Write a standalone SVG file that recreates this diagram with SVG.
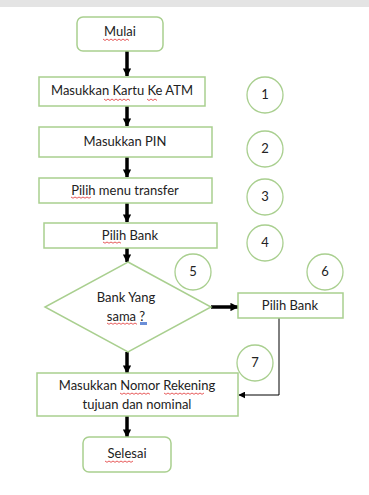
<svg xmlns="http://www.w3.org/2000/svg" width="369" height="495" viewBox="0 0 369 495">
<defs>
<marker id="ah" viewBox="0 0 10 10" refX="9" refY="5" markerWidth="2.4" markerHeight="2.4" orient="auto" markerUnits="strokeWidth"><path d="M0,0 L10,5 L0,10 z" fill="#000"/></marker>
<marker id="ahs" viewBox="0 0 10 10" refX="9" refY="5" markerWidth="7" markerHeight="7" orient="auto" markerUnits="userSpaceOnUse"><path d="M0,0 L10,5 L0,10 z" fill="#000"/></marker>
</defs>
<style>
.n{fill:#fff;stroke:#a9cf8f;stroke-width:1.5}
.t{font-family:Lato,"Liberation Sans",sans-serif;font-size:13px;fill:#222;text-anchor:middle}
.c{fill:#fff;stroke:#a9cf8f;stroke-width:1.3}
.a{stroke:#000;stroke-width:3.5;fill:none;marker-end:url(#ah)}
.w{stroke:#e03030;stroke-width:0.8;fill:none}
</style>
<rect x="0" y="0" width="369" height="7" fill="#e4e4e4"/>
<g id="connectors">
<line class="a" x1="127" y1="51" x2="127" y2="76"/>
<line class="a" x1="127" y1="106" x2="127" y2="126"/>
<line class="a" x1="127" y1="157" x2="127" y2="177"/>
<line class="a" x1="127" y1="203" x2="127" y2="222"/>
<line class="a" x1="127" y1="248" x2="127" y2="262"/>
<line class="a" x1="211" y1="307" x2="238" y2="307"/>
<line class="a" x1="127" y1="352" x2="127" y2="373"/>
<line class="a" x1="127" y1="416" x2="127" y2="437"/>
<polyline points="279,318 279,395 239,395" stroke="#000" stroke-width="1" fill="none" marker-end="url(#ahs)"/>
</g>
<g id="mulai"><rect class="n" x="77" y="17" width="86" height="34" rx="6"/><text class="t" x="120" y="36">Mulai</text><path class="w" d="M103,39 l2,1.5 2,-1.5 2,1.5 2,-1.5 2,1.5 2,-1.5 2,1.5 2,-1.5 2,1.5 2,-1.5 2,1.5 2,-1.5 2,1.5"/></g>
<g id="step1"><rect class="n" x="39" y="77" width="166" height="29"/><text class="t" x="122" y="95">Masukkan Kartu Ke ATM</text><path class="w" d="M104,99 l2,1.5 2,-1.5 2,1.5 2,-1.5 2,1.5 2,-1.5 2,1.5 2,-1.5 2,1.5 2,-1.5 2,1.5 2,-1.5 2,1.5 M147,99 l2,1.5 2,-1.5 2,1.5 2,-1.5 2,1.5"/></g>
<g id="c1"><circle class="c" cx="265" cy="95" r="18"/><text class="t" x="265" y="99">1</text></g>
<g id="step2"><rect class="n" x="39" y="127" width="173" height="30"/><text class="t" x="125" y="146">Masukkan PIN</text></g>
<g id="c2"><circle class="c" cx="265" cy="149" r="18"/><text class="t" x="265" y="153">2</text></g>
<g id="step3"><rect class="n" x="39" y="178" width="173" height="25"/><text class="t" x="125" y="195">Pilih menu transfer</text><path class="w" d="M71,197 l2,1.2 2,-1.2 2,1.2 2,-1.2 2,1.2 2,-1.2 2,1.2 2,-1.2 2,1.2 2,-1.2"/></g>
<g id="c3"><circle class="c" cx="265" cy="197" r="18"/><text class="t" x="265" y="201">3</text></g>
<g id="step4"><rect class="n" x="44" y="223" width="173" height="25"/><text class="t" x="130" y="240">Pilih Bank</text><path class="w" d="M103,242 l2,1.2 2,-1.2 2,1.2 2,-1.2 2,1.2 2,-1.2 2,1.2 2,-1.2 2,1.2"/></g>
<g id="c4"><circle class="c" cx="265" cy="243" r="18"/><text class="t" x="265" y="247">4</text></g>
<g id="decision"><polygon class="n" points="128,262 211,307 128,352 45,307"/><text class="t" x="126" y="302">Bank Yang</text><text class="t" x="126" y="321">sama ?</text><rect x="140" y="322" width="7" height="3" fill="#6b8fd8"/><path class="w" d="M107,323 l2,1.3 2,-1.3 2,1.3 2,-1.3 2,1.3 2,-1.3 2,1.3 2,-1.3 2,1.3 2,-1.3 2,1.3 2,-1.3 2,1.3 2,-1.3 2,1.3"/></g>
<g id="c5"><circle class="c" cx="193" cy="272" r="18"/><text class="t" x="193" y="276">5</text></g>
<g id="c6"><circle class="c" cx="325" cy="272" r="18"/><text class="t" x="325" y="276">6</text></g>
<g id="pilihbank2"><rect class="n" x="238" y="293" width="105" height="25"/><text class="t" x="290" y="310">Pilih Bank</text></g>
<g id="c7"><circle class="c" cx="255" cy="363" r="18"/><text class="t" x="255" y="367">7</text></g>
<g id="step7"><rect class="n" x="37" y="373" width="201" height="43"/><text class="t" x="137" y="390">Masukkan Nomor Rekening</text><text class="t" x="137" y="409">tujuan dan nominal</text><path class="w" d="M120,393 l2,1.3 2,-1.3 2,1.3 2,-1.3 2,1.3 2,-1.3 2,1.3 2,-1.3 2,1.3 2,-1.3 2,1.3 2,-1.3 2,1.3 2,-1.3 2,1.3 M164,393 l2,1.3 2,-1.3 2,1.3 2,-1.3 2,1.3 2,-1.3 2,1.3 2,-1.3 2,1.3 2,-1.3 2,1.3 2,-1.3 2,1.3 2,-1.3 2,1.3 2,-1.3 2,1.3 2,-1.3 2,1.3 2,-1.3"/></g>
<g id="selesai"><rect class="n" x="83" y="437" width="88" height="35" rx="6"/><text class="t" x="127" y="458">Selesai</text><path class="w" d="M105,461 l2,1.3 2,-1.3 2,1.3 2,-1.3 2,1.3 2,-1.3 2,1.3 2,-1.3 2,1.3 2,-1.3 2,1.3 2,-1.3 2,1.3 2,-1.3"/></g>
</svg>
